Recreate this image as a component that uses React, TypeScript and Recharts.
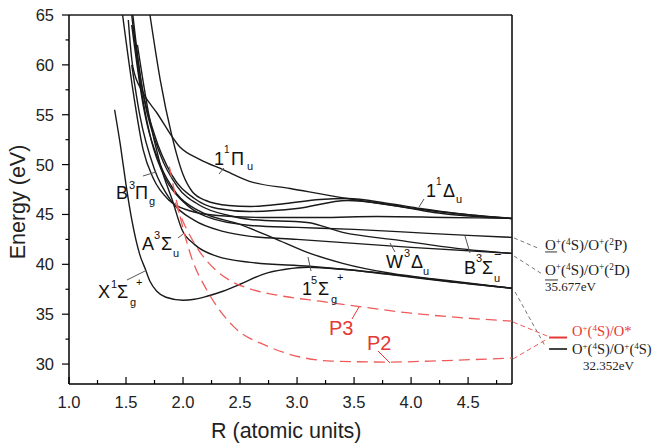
import React from 'react';
import { LineChart, Line, XAxis, YAxis, ReferenceLine } from 'recharts';

// axis ranges / ticks
const R_DOMAIN = [1, 4.885];
const E_DOMAIN = [28, 65];
const R_TICKS = [1, 1.25, 1.5, 1.75, 2, 2.25, 2.5, 2.75, 3, 3.25, 3.5, 3.75, 4, 4.25, 4.5, 4.75];
const E_TICKS = [30, 32.5, 35, 37.5, 40, 42.5, 45, 47.5, 50, 52.5, 55, 57.5, 60, 62.5, 65];

// potential curves, [R (a.u.), E (eV)]
const X1_SIGMA_G = [
  [1.4, 55.5], [1.45, 52], [1.5, 48], [1.55, 44.5], [1.62, 41], [1.67, 39.5], [1.71, 38.3],
  [1.77, 37.3], [1.85, 36.7], [2.0, 36.4], [2.1, 36.5], [2.21, 36.8], [2.35, 37.3], [2.5, 38],
  [2.7, 39], [2.9, 39.5], [3.1, 39.7], [3.4, 39.5], [3.8, 39.0], [4.3, 38.3], [4.885, 37.6],
];
const A3_SIGMA_U = [
  [1.6, 62], [1.7, 55], [1.8, 50], [1.91, 46.3], [1.99, 43.5], [2.1, 42], [2.3, 40.8],
  [2.59, 40.2], [3.11, 39.8], [3.5, 39.4], [3.9, 38.9], [4.4, 38.2], [4.885, 37.6],
];
const S5_SIGMA_G = [
  [1.55, 64], [1.65, 56], [1.8, 50], [1.95, 47], [2.15, 45.3], [2.5, 44], [2.8, 42.6],
  [3.09, 41.2], [3.4, 40.1], [3.82, 39.1], [4.3, 38.4], [4.885, 37.6],
];
const W3_DELTA_U = [
  [1.56, 64], [1.66, 56.5], [1.8, 51], [1.95, 47.8], [2.15, 45.9], [2.4, 44.9], [2.59, 44.5],
  [3.09, 44.2], [3.4, 43.2], [3.9, 42.4], [4.4, 41.6], [4.885, 41.1],
];
const STATE_D2 = [
  [1.55, 60], [1.62, 55], [1.75, 49.5], [1.9, 46.3], [2.1, 44.4], [2.35, 43.3], [2.59, 42.8],
  [3.0, 42.5], [3.5, 42.1], [4.0, 41.7], [4.885, 41.1],
];
const B3_SIGMA_U = [
  [1.55, 65], [1.62, 58.5], [1.72, 52.5], [1.85, 48.5], [2.0, 46.3], [2.2, 44.8], [2.59, 43.9],
  [3.0, 43.7], [3.5, 43.5], [4.0, 43.2], [4.5, 42.9], [4.885, 42.7],
];
const B3_PI_G = [
  [1.47, 65], [1.56, 57.5], [1.65, 51.5], [1.74, 48.6], [1.88, 46.4], [2.05, 45.4], [2.3, 44.9],
  [2.7, 44.7], [3.2, 44.7], [3.7, 44.8], [4.3, 44.7], [4.885, 44.6],
];
const D1_DELTA_U = [
  [1.71, 65], [1.8, 58.5], [1.9, 53], [2.0, 49], [2.08, 47.3], [2.2, 46.4], [2.4, 45.9],
  [2.59, 45.8], [2.9, 46.1], [3.2, 46.5], [3.44, 46.6], [3.8, 46.1], [4.08, 45.6], [4.4, 45.1],
  [4.885, 44.6],
];
const STATE_P2 = [
  [1.56, 65], [1.63, 58.5], [1.75, 53], [1.9, 49], [2.1, 46.6], [2.3, 45.6], [2.59, 45.3],
  [3.0, 45.6], [3.44, 46.4], [3.8, 46.0], [4.2, 45.2], [4.885, 44.6],
];
const P1_PI_U = [
  [1.52, 64.5], [1.56, 59.8], [1.65, 57.2], [1.77, 55.2], [1.97, 51.8], [2.15, 50.5], [2.35, 49.5],
  [2.59, 48.3], [2.94, 47.6], [3.44, 46.6], [3.9, 45.8], [4.23, 45.3], [4.885, 44.6],
];

const BLACK_CURVES = [X1_SIGMA_G, A3_SIGMA_U, S5_SIGMA_G, W3_DELTA_U, STATE_D2, B3_SIGMA_U, B3_PI_G, D1_DELTA_U, STATE_P2, P1_PI_U];

// dissociation paths (red dashed)
const P2_PATH = [
  [1.88, 49.8], [1.97, 45], [2.08, 40.5], [2.21, 37.4], [2.44, 33.8], [2.74, 31.8], [3.03, 30.7],
  [3.3, 30.3], [3.8, 30.2], [4.3, 30.35], [4.885, 30.6],
];
const P3_PATH = [
  [1.93, 46.2], [2.02, 43.8], [2.15, 41.2], [2.3, 39.3], [2.44, 38.2], [2.6, 37.5], [2.88, 36.8],
  [3.2, 36.3], [3.46, 35.9], [4.0, 35.1], [4.5, 34.6], [4.885, 34.3],
];

// connectors to the asymptote labels on the right (R, E pairs)
const GRAY_LEADERS = [
  [[4.903, 42.64], [5.131, 41.54]],
  [[4.903, 40.83], [5.149, 39.03]],
  [[4.912, 37.23], [5.175, 31.81]],
];
const RED_LEADERS = [
  [[4.894, 34.22], [5.193, 32.81]],
  [[4.894, 30.51], [5.193, 32.51]],
];
const LEVEL_MARKS = [
  { seg: [[5.21, 32.66], [5.368, 32.66]], color: '#e53935', w: 2 },
  { seg: [[5.21, 31.51], [5.368, 31.51]], color: '#444', w: 2 },
  { seg: [[5.175, 41.24], [5.28, 41.24]], color: '#333', w: 1 },
  { seg: [[5.175, 38.43], [5.289, 38.43]], color: '#333', w: 1 },
];

const pts = (a: number[][]) => a.map(([r, e]) => ({ r, e }));
const SANS = 'Liberation Sans, Arial, sans-serif';
const SERIF = 'Liberation Serif, Times New Roman, serif';
const RED = '#e53935';

const YTick = ({ x, y, payload }: any) => {
  const v = payload.value;
  const major = v % 5 === 0;
  return (
    <g>
      <line x1={x - (major ? 7 : 3.5)} x2={x} y1={y} y2={y} stroke="#000" strokeWidth={1.2} />
      {major && (
        <text x={x - 15} y={y} dy="0.36em" textAnchor="end" fontSize={16.5} fill="#222" fontFamily={SANS}>
          {v}
        </text>
      )}
    </g>
  );
};

const XTick = ({ x, y, payload }: any) => {
  const v = payload.value;
  const major = Math.abs(v * 2 - Math.round(v * 2)) < 1e-9;
  return (
    <g>
      <line x1={x} x2={x} y1={y} y2={y - (major ? 7 : 4)} stroke="#000" strokeWidth={1.2} />
      {major && (
        <text x={x} y={y + 24} textAnchor="middle" fontSize={16.5} fill="#222" fontFamily={SANS}>
          {v.toFixed(1)}
        </text>
      )}
    </g>
  );
};

// curve label made of positioned pieces
type Piece = [string, number, number, number];
const Lbl = ({ pieces, fill = '#111' }: { pieces: Piece[]; fill?: string }) => (
  <g fill={fill} fontFamily={SANS}>
    {pieces.map(([t, x, y, s], i) => (
      <text key={i} x={x} y={y} fontSize={s}>{t}</text>
    ))}
  </g>
);

const Chem = ({ x, y, parts, size, fill = '#222' }: any) => {
  let shift = 0;
  return (
    <text x={x} y={y} fontSize={size} fill={fill} fontFamily={SERIF}>
      {parts.map(([t, sup]: [string, number], i: number) => {
        const target = sup ? -size * 0.36 : 0;
        const dy = target - shift;
        shift = target;
        return (
          <tspan key={i} dy={dy} fontSize={sup ? size * 0.62 : size}>{t}</tspan>
        );
      })}
    </text>
  );
};

const ion = (a: string, b: string, tail: string): [string, number][] => [
  ['O', 0], ['+', 1], ['(', 0], [a, 1], ['S)/O', 0], ['+', 1], ['(', 0], [b, 1], [tail + ')', 0],
];

const Leader = ({ x1, y1, x2, y2, c = '#555' }: any) => (
  <line x1={x1} y1={y1} x2={x2} y2={y2} stroke={c} strokeWidth={1} />
);

export default function App() {
  return (
    <div style={{ position: 'absolute', left: 0, top: 0, width: 659, height: 446, background: '#fff' }}>
      <LineChart width={659} height={446} margin={{ top: 15, right: 147, left: 0, bottom: 32 }}>
        <XAxis
          type="number"
          dataKey="r"
          domain={R_DOMAIN}
          ticks={R_TICKS}
          interval={0}
          allowDataOverflow
          tickSize={0}
          tickMargin={0}
          tick={<XTick />}
          height={30}
          axisLine={{ stroke: '#000', strokeWidth: 1.5 }}
        />
        <YAxis
          type="number"
          domain={E_DOMAIN}
          ticks={E_TICKS}
          interval={0}
          allowDataOverflow
          tickSize={0}
          tickMargin={0}
          tick={<YTick />}
          width={69}
          axisLine={{ stroke: '#000', strokeWidth: 1.5 }}
        />
        <ReferenceLine y={65} stroke="#555" strokeWidth={2} />
        <ReferenceLine x={R_DOMAIN[1]} stroke="#000" strokeWidth={1.5} />
        {BLACK_CURVES.map((c, i) => (
          <Line
            key={`k${i}`}
            data={pts(c)}
            dataKey="e"
            type="monotone"
            dot={false}
            stroke="#1a1a1a"
            strokeWidth={1.4}
            isAnimationActive={false}
          />
        ))}
        {[P2_PATH, P3_PATH].map((c, i) => (
          <Line
            key={`p${i}`}
            data={pts(c)}
            dataKey="e"
            type="monotone"
            dot={false}
            stroke="#ef5b5b"
            strokeWidth={1.3}
            strokeDasharray="11 6"
            isAnimationActive={false}
          />
        ))}
        {GRAY_LEADERS.map((s, i) => (
          <ReferenceLine
            key={`g${i}`}
            segment={s.map(([x, y]) => ({ x, y }))}
            ifOverflow="visible"
            stroke="#777"
            strokeDasharray="4 3"
            strokeWidth={1}
          />
        ))}
        {RED_LEADERS.map((s, i) => (
          <ReferenceLine
            key={`r${i}`}
            segment={s.map(([x, y]) => ({ x, y }))}
            ifOverflow="visible"
            stroke="#ef5b5b"
            strokeDasharray="5 3"
            strokeWidth={1}
          />
        ))}
        {LEVEL_MARKS.map((m, i) => (
          <ReferenceLine
            key={`m${i}`}
            segment={m.seg.map(([x, y]) => ({ x, y }))}
            ifOverflow="visible"
            stroke={m.color}
            strokeWidth={m.w}
          />
        ))}
      </LineChart>

      <svg width={659} height={446} style={{ position: 'absolute', left: 0, top: 0, pointerEvents: 'none' }}>
        {/* axis titles */}
        <text transform="rotate(-90)" x={-202} y={25} textAnchor="middle" fontSize={21.5} fill="#222" fontFamily={SANS}>
          Energy (eV)
        </text>
        <text x={211} y={438} fontSize={21.5} fill="#222" fontFamily={SANS}>R (atomic units)</text>

        {/* state labels */}
        <Lbl pieces={[['1', 214, 165, 18], ['1', 224, 153, 10], ['Π', 231, 165, 18], ['u', 247, 170, 11]]} />
        <Leader x1={224} y1={168} x2={219} y2={174} />
        <Lbl pieces={[['B', 116, 199, 18], ['3', 129, 189, 11], ['Π', 135, 199, 18], ['g', 149, 205, 11]]} />
        <Leader x1={143} y1={176} x2={156} y2={172} />
        <Lbl pieces={[['A', 142, 250, 18], ['3', 154, 239, 11], ['Σ', 161, 250, 18], ['u', 173, 257, 11]]} />
        <Leader x1={178} y1={238} x2={183} y2={234} />
        <Lbl pieces={[['X', 98, 298, 18], ['1', 111, 288, 11], ['Σ', 117, 298, 18], ['g', 130, 306, 11], ['+', 136, 286, 11]]} />
        <Leader x1={127} y1={280} x2={145} y2={271} />
        <Lbl pieces={[['1', 302, 295, 18], ['5', 311, 284, 11], ['Σ', 318, 295, 18], ['g', 331, 303, 11], ['+', 337, 281, 11]]} />
        <Leader x1={311} y1={271} x2={308} y2={257} />
        <Lbl pieces={[['W', 386, 268, 18], ['3', 404, 257, 11], ['Δ', 411, 268, 18], ['u', 423, 275, 11]]} />
        <Leader x1={395} y1={252} x2={390} y2={243} />
        <Lbl pieces={[['B', 464, 274, 18], ['3', 476, 262, 11], ['Σ', 482, 274, 18], ['u', 494, 282, 11], ['−', 494, 259, 13]]} />
        <Leader x1={470} y1={253} x2={465} y2={236} />
        <Lbl pieces={[['1', 426, 197, 18], ['1', 436, 185, 10], ['Δ', 443, 197, 18], ['u', 456, 203, 11]]} />
        <Leader x1={424} y1={199} x2={419} y2={207} />

        {/* paths */}
        <text x={329} y={335} fontSize={20} fill={RED} fontFamily={SANS}>P3</text>
        <Leader x1={352} y1={319} x2={359} y2={307} c={RED} />
        <text x={367} y={350} fontSize={20} fill={RED} fontFamily={SANS}>P2</text>
        <Leader x1={378} y1={351} x2={390} y2={363} c={RED} />

        {/* asymptotes */}
        <Chem x={545} y={250} size={15} parts={ion('4', '2', 'P')} />
        <Chem x={545} y={275} size={15} parts={ion('4', '2', 'D')} />
        <text x={545} y={291} fontSize={13} fill="#222" fontFamily={SERIF}>35.677eV</text>
        <Chem x={572} y={336} size={14.5} fill={RED} parts={[['O', 0], ['+', 1], ['(', 0], ['4', 1], ['S)/O*', 0]]} />
        <Chem x={572} y={354} size={14.5} parts={ion('4', '4', 'S')} />
        <text x={583} y={370} fontSize={13} fill="#222" fontFamily={SERIF}>32.352eV</text>
      </svg>
    </div>
  );
}
